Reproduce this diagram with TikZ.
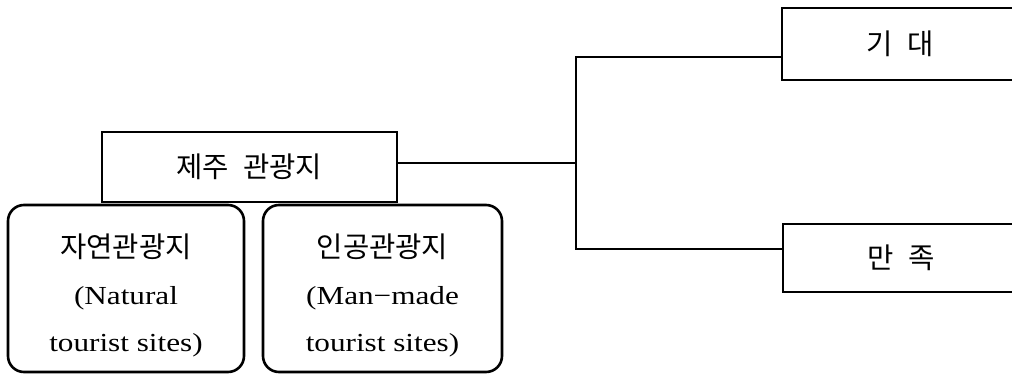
\documentclass[tikz,border=0pt]{standalone}
\usepackage{fontspec}
\setmainfont{Liberation Serif}[FakeStretch=1.2]
\newfontfamily\kr{Noto Sans CJK KR}[WordSpace=2.2,Scale=1.1]
\begin{document}
\begin{tikzpicture}[x=1pt,y=-1pt,line width=2.6pt]
\tikzstyle{every node}=[draw,inner sep=0pt,font=\fontsize{26}{47}\selectfont]
\tikzstyle{site}=[rectangle,rounded corners=16pt,minimum width=236pt,minimum height=167pt,align=center]
\useasboundingbox (0,0) rectangle (1012,374);
% tourist sites of Jeju
\node[rectangle,minimum width=295pt,minimum height=70pt](jeju) at (249.5,167) {\kr 제주 관광지};
\node[site](nat) at (126,288.5) {\rule{0pt}{38pt}{\kr 자연관광지}\\(Natural\\tourist sites)};
\node[site,minimum width=239pt](art) at (382.5,288.5) {\rule{0pt}{38pt}{\kr 인공관광지}\\(Man−made\\tourist sites)};
% outcomes
\node[rectangle,minimum width=236pt,minimum height=72pt](expt) at (900,44) {\kr 기 대};
\node[rectangle,minimum width=236pt,minimum height=68pt](sat) at (901,258) {\kr 만 족};
\coordinate (fork) at (576,163);
\coordinate (up) at (576,57);
\coordinate (down) at (576,249);
\draw (jeju.east |- fork) -- (fork);
\draw (expt.west |- up) -- (up) -- (down) -- (sat.west |- down);
\end{tikzpicture}
\end{document}
